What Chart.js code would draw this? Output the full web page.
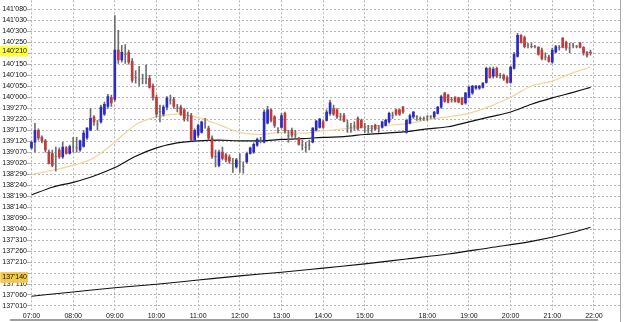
<!DOCTYPE html>
<html>
<head>
<meta charset="utf-8">
<script src="https://cdn.jsdelivr.net/npm/chart.js@4.4.1/dist/chart.umd.min.js"></script>
<style>
  html, body { margin: 0; padding: 0; background: #fff; }
  #wrap { width: 625px; height: 322px; }
</style>
</head>
<body>
<div id="wrap"><canvas id="priceChart" width="625" height="322"></canvas></div>
<script>
// 5 minute bars, one slot per bar (no bars between 16:30 and 18:00)
var timeLabels = ["07:00", "08:00", "09:00", "10:00", "11:00", "12:00", "13:00", "14:00", "15:00",
  "18:00", "19:00", "20:00", "21:00", "22:00"];
var timeSlots = [0, 12, 24, 36, 48, 60, 72, 84, 96, 114, 126, 138, 150, 162];

// price axis, in 32nds
var priceTicks = ["141'080", "141'030", "140'300", "140'250", "140'200", "140'150", "140'100", "140'050",
  "140'000", "139'270", "139'220", "139'170", "139'120", "139'070", "139'020", "138'290", "138'240",
  "138'190", "138'140", "138'090", "138'040", "137'310", "137'260", "137'210", "137'160", "137'110",
  "137'060", "137'010"];
var hiddenTicks = ["140'200", "137'160"];
var markerTicks = ["140'210", "137'140"];
var markerColors = ["#ffff3c", "#f4c84a"];

var opens = [139.28,139.36,139.53,139.43,139.38,139.22,139.20,139.16,139.25,139.15,
  139.28,139.20,139.30,139.28,139.25,139.30,139.42,139.53,139.72,139.62,
  139.65,139.76,139.87,140.00,139.97,140.67,140.53,140.61,140.64,140.51,
  140.28,140.26,140.27,140.27,140.27,140.16,140.00,139.80,139.76,139.86,
  139.96,139.97,139.86,139.86,139.82,139.74,139.74,139.39,139.46,139.50,
  139.63,139.56,139.42,139.16,139.03,139.22,139.18,139.15,139.05,139.01,
  139.08,139.02,139.08,139.20,139.22,139.32,139.39,139.36,139.63,139.82,
  139.72,139.53,139.57,139.77,139.45,139.53,139.47,139.42,139.32,139.29,
  139.32,139.36,139.53,139.57,139.65,139.67,139.77,139.84,139.82,139.73,
  139.74,139.59,139.57,139.59,139.70,139.67,139.57,139.55,139.56,139.60,
  139.56,139.57,139.60,139.65,139.74,139.82,139.82,139.86,139.50,139.63,
  139.72,139.72,139.70,139.70,139.72,139.73,139.72,139.77,139.86,140.06,
  140.03,139.97,140.00,139.99,139.99,139.92,140.00,140.06,140.13,140.13,
  140.14,140.21,140.41,140.30,140.41,140.31,140.31,140.28,140.21,140.41,
  140.58,140.88,140.85,140.74,140.72,140.72,140.71,140.67,140.57,140.57,
  140.50,140.64,140.71,140.84,140.78,140.70,140.74,140.72,140.77,140.71,
  140.64,140.64];
var highs = [139.38,139.63,139.55,139.45,139.40,139.25,139.25,139.29,139.28,139.36,
  139.30,139.32,139.43,139.43,139.39,139.53,139.57,139.84,139.74,139.67,
  139.89,139.93,140.04,140.03,141.16,140.95,140.74,140.75,140.67,140.55,
  140.38,140.44,140.33,140.46,140.31,140.19,140.03,139.89,139.89,140.01,
  140.03,140.00,139.90,139.89,139.84,139.79,139.77,139.55,139.62,139.66,
  139.70,139.59,139.45,139.25,139.25,139.29,139.20,139.18,139.13,139.13,
  139.20,139.08,139.22,139.29,139.35,139.42,139.43,139.82,139.87,139.83,
  139.74,139.57,139.77,139.79,139.53,139.56,139.53,139.43,139.39,139.36,
  139.39,139.57,139.67,139.70,139.67,139.82,139.96,139.89,139.84,139.77,
  139.77,139.67,139.63,139.65,139.72,139.69,139.63,139.60,139.60,139.62,
  139.60,139.66,139.69,139.79,139.79,139.83,139.83,139.87,139.69,139.76,
  139.80,139.74,139.72,139.72,139.74,139.74,139.80,139.87,140.03,140.07,
  140.04,140.00,140.01,140.00,140.00,140.07,140.16,140.17,140.17,140.17,
  140.21,140.43,140.43,140.43,140.43,140.34,140.33,140.30,140.44,140.64,
  140.91,140.89,140.87,140.77,140.77,140.74,140.72,140.70,140.63,140.60,
  140.70,140.74,140.74,140.85,140.80,140.77,140.77,140.74,140.78,140.72,
  140.65,140.67];
var lows = [139.26,139.22,139.39,139.35,139.22,139.05,139.01,138.95,139.13,139.13,
  139.19,139.19,139.22,139.22,139.23,139.29,139.40,139.52,139.60,139.53,
  139.63,139.74,139.84,139.87,139.94,140.48,140.50,140.48,140.47,140.21,
  140.20,140.16,140.19,140.19,140.13,139.96,139.72,139.65,139.73,139.82,
  139.90,139.84,139.79,139.74,139.66,139.66,139.38,139.38,139.43,139.49,
  139.56,139.39,139.13,139.01,139.01,139.11,139.08,139.06,138.93,138.99,
  138.93,138.92,139.06,139.19,139.20,139.30,139.35,139.35,139.62,139.65,
  139.57,139.49,139.56,139.49,139.36,139.43,139.42,139.32,139.25,139.22,
  139.25,139.35,139.52,139.56,139.56,139.66,139.74,139.74,139.70,139.67,
  139.65,139.50,139.50,139.53,139.53,139.56,139.50,139.49,139.50,139.53,
  139.50,139.56,139.59,139.63,139.70,139.74,139.74,139.77,139.49,139.62,
  139.70,139.67,139.67,139.67,139.67,139.70,139.70,139.76,139.84,139.93,
  139.92,139.93,139.93,139.92,139.89,139.90,139.99,140.04,140.11,140.11,
  140.13,140.20,140.27,140.27,140.28,140.27,140.24,140.20,140.20,140.40,
  140.57,140.77,140.70,140.70,140.70,140.70,140.60,140.53,140.53,140.50,
  140.48,140.63,140.67,140.70,140.67,140.63,140.70,140.70,140.70,140.60,
  140.57,140.60];
var closes = [139.36,139.53,139.42,139.38,139.25,139.06,139.03,139.16,139.15,139.29,
  139.20,139.30,139.30,139.28,139.38,139.49,139.56,139.70,139.65,139.62,
  139.86,139.90,140.01,139.92,140.67,140.53,140.64,140.61,140.50,140.24,
  140.28,140.26,140.27,140.27,140.14,140.00,139.76,139.80,139.86,139.99,
  139.96,139.87,139.86,139.76,139.69,139.74,139.39,139.53,139.60,139.65,
  139.63,139.42,139.16,139.16,139.22,139.13,139.11,139.09,139.05,139.11,
  139.08,139.02,139.20,139.28,139.33,139.40,139.39,139.79,139.82,139.67,
  139.60,139.53,139.74,139.52,139.45,139.46,139.47,139.33,139.32,139.29,
  139.32,139.56,139.66,139.69,139.57,139.79,139.92,139.76,139.72,139.73,
  139.66,139.59,139.57,139.59,139.55,139.57,139.57,139.55,139.56,139.55,
  139.56,139.65,139.67,139.77,139.74,139.76,139.76,139.79,139.67,139.74,
  139.79,139.72,139.70,139.70,139.72,139.73,139.79,139.86,140.01,139.94,
  139.93,139.97,139.94,139.93,139.90,140.06,140.14,140.16,140.16,140.16,
  140.20,140.41,140.28,140.40,140.30,140.31,140.26,140.21,140.43,140.61,
  140.88,140.78,140.72,140.74,140.72,140.72,140.61,140.55,140.57,140.51,
  140.67,140.72,140.71,140.71,140.70,140.70,140.74,140.72,140.71,140.63,
  140.60,140.63];

// moving averages, read every half hour
var maSlots = [0, 6, 12, 18, 24, 30, 36, 42, 48, 54, 60, 66, 72, 78, 84, 90, 96, 102, 108, 114,
  120, 126, 132, 138, 144, 150, 156, 161];
var maFast = [138.90,138.96,139.03,139.14,139.36,139.61,139.72,139.76,139.71,139.61,139.50,139.47,
  139.50,139.49,139.52,139.55,139.58,139.60,139.62,139.68,139.72,139.77,139.87,140.00,140.16,140.23,
  140.35,140.43];
var maSlow = [138.61,138.72,138.79,138.88,139.00,139.16,139.28,139.35,139.38,139.39,139.38,139.38,
  139.40,139.41,139.43,139.44,139.47,139.49,139.51,139.55,139.58,139.65,139.72,139.79,139.90,139.99,
  140.07,140.14];
var longSlots = [0, 12, 24, 36, 48, 60, 72, 84, 96, 108, 120, 132, 144, 156, 161];
var maLong = [137.17,137.23,137.29,137.34,137.40,137.46,137.51,137.57,137.63,137.70,137.77,137.86,
  137.95,138.08,138.15];

var upColor = "#2a2ac8";
var downColor = "#c23a3a";
var wickColor = "#6e6e6e";
var gridColor = "#b4b4b4";
var labelFont = "'Liberation Sans Narrow', 'Liberation Sans', Arial, sans-serif";

function parse32(s) {
	var parts = s.split("'");
	return parseInt(parts[0], 10) + parseInt(parts[1], 10) / 320;
}
function format32(v) {
	var whole = Math.floor(v + 1e-9);
	var t = Math.round((v - whole) * 320);
	return whole + "'" + String(t).padStart(3, "0");
}

var tickValues = priceTicks.map(parse32);
var markerValues = markerTicks.map(parse32);

function markerIndex(v) {
	for (var i = 0; i < markerValues.length; i++) {
		if (Math.abs(markerValues[i] - v) < 1e-6) return i;
	}
	return -1;
}

// bottom scroll bar and right frame
var framePlugin = {
	id: "frame",
	afterDraw: function (chart) {
		var ctx = chart.ctx;
		var area = chart.chartArea;
		ctx.save();
		ctx.strokeStyle = "#a8a8a8";
		ctx.lineWidth = 1;
		ctx.beginPath();
		ctx.moveTo(Math.round(area.right) + 0.5, 0);
		ctx.lineTo(Math.round(area.right) + 0.5, chart.height);
		ctx.stroke();
		ctx.fillStyle = "#a0a0a0";
		ctx.fillRect(10, chart.height - 3, 588, 2);
		ctx.restore();
	}
};

var candleWicks = lows.map(function (l, i) { return { x: i, y: [l, highs[i]] }; });
var candleBodies = opens.map(function (o, i) { return { x: i, y: [o, closes[i]] }; });
var bodyColors = opens.map(function (o, i) {
	if (closes[i] > o) return upColor;
	if (closes[i] < o) return downColor;
	return wickColor;
});

var chart = new Chart(document.getElementById("priceChart"), {
	type: "bar",
	data: {
		datasets: [
			{
				type: "bar",
				data: candleBodies,
				backgroundColor: bodyColors,
				barThickness: 2,
				grouped: false,
				order: 1,
			},
			{
				type: "bar",
				data: candleWicks,
				backgroundColor: wickColor,
				barThickness: 1,
				grouped: false,
				order: 2,
			},
			{
				type: "line",
				data: maSlots.map(function (s, i) { return { x: s, y: maFast[i] }; }),
				borderColor: "#f0d59e",
				borderWidth: 1.2,
				pointRadius: 0,
				cubicInterpolationMode: "monotone",
				order: 3,
			},
			{
				type: "line",
				data: maSlots.map(function (s, i) { return { x: s, y: maSlow[i] }; }),
				borderColor: "#111111",
				borderWidth: 1.2,
				pointRadius: 0,
				cubicInterpolationMode: "monotone",
				order: 3,
			},
			{
				type: "line",
				data: longSlots.map(function (s, i) { return { x: s, y: maLong[i] }; }),
				borderColor: "#111111",
				borderWidth: 1.1,
				pointRadius: 0,
				cubicInterpolationMode: "monotone",
				order: 3,
			},
		],
	},
	options: {
		responsive: false,
		animation: false,
		events: [],
		layout: { padding: { left: 0, top: 0, right: 5, bottom: 0 } },
		plugins: {
			legend: { display: false },
			tooltip: { enabled: false },
		},
		scales: {
			x: {
				type: "linear",
				min: -0.43,
				max: 169.5,
				bounds: "data",
				offset: false,
				afterBuildTicks: function (scale) {
					scale.ticks = timeSlots.map(function (v) { return { value: v }; });
				},
				afterFit: function (scale) { scale.height = 12; },
				ticks: {
					autoSkip: false,
					maxRotation: 0,
					padding: 3,
					color: "#111",
					font: { family: labelFont, size: 7, lineHeight: 1 },
					callback: function (v) { return timeLabels[timeSlots.indexOf(v)]; },
				},
				grid: { offset: false, drawTicks: false, color: gridColor, lineWidth: 1 },
				border: { display: false, dash: [2, 2] },
			},
			y: {
				type: "linear",
				min: 136.974,
				max: 141.378,
				bounds: "data",
				afterBuildTicks: function (scale) {
					var vals = tickValues.concat(markerValues).sort(function (a, b) { return a - b; });
					scale.ticks = vals.map(function (v) { return { value: v }; });
				},
				afterFit: function (scale) { scale.width = 30; },
				ticks: {
					autoSkip: false,
					padding: 0,
					color: "#111",
					font: { family: labelFont, size: 7, lineHeight: 0.1 },
					callback: function (v) {
						var s = format32(v);
						return hiddenTicks.indexOf(s) >= 0 ? "" : s;
					},
					showLabelBackdrop: true,
					backdropColor: function (ctx) {
						var k = ctx.tick ? markerIndex(ctx.tick.value) : -1;
						return k >= 0 ? markerColors[k] : "rgba(0,0,0,0)";
					},
					backdropPadding: { top: 5, bottom: 5, left: 2, right: 1 },
				},
				grid: {
					color: function (ctx) {
						return ctx.tick && markerIndex(ctx.tick.value) >= 0 ? "rgba(0,0,0,0)" : gridColor;
					},
					tickLength: 3,
					lineWidth: 1,
				},
				border: { display: false, dash: [2, 2] },
			},
		},
	},
	plugins: [framePlugin],
});
</script>
</body>
</html>
